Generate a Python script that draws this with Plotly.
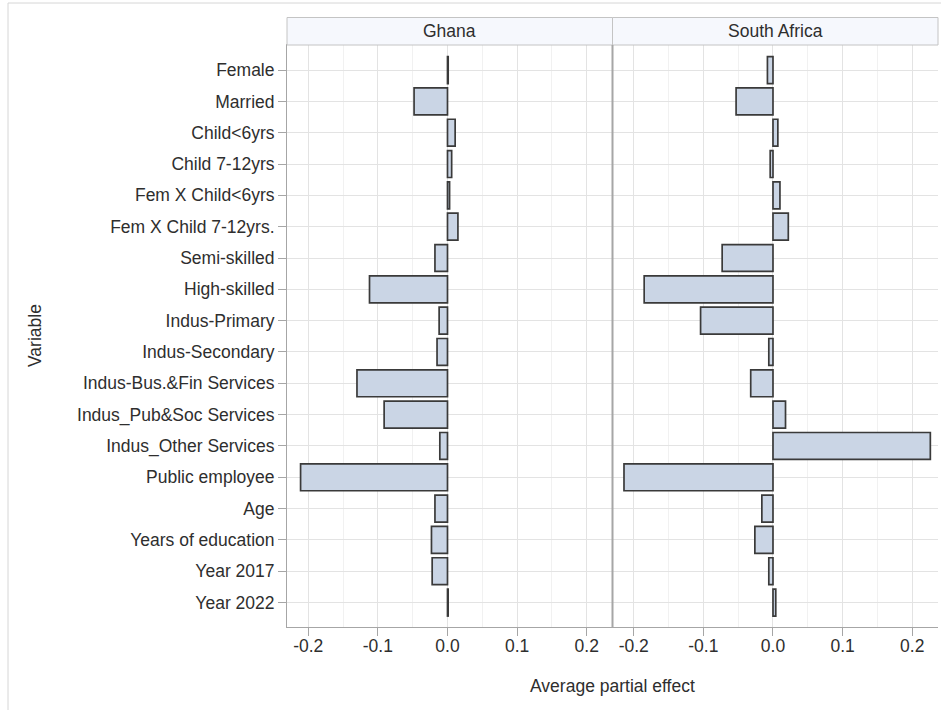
import plotly.graph_objects as go

variables = ["Female", "Married", "Child<6yrs", "Child 7-12yrs", "Fem X Child<6yrs",
             "Fem X Child 7-12yrs.", "Semi-skilled", "High-skilled", "Indus-Primary",
             "Indus-Secondary", "Indus-Bus.&Fin Services", "Indus_Pub&Soc Services",
             "Indus_Other Services", "Public employee", "Age", "Years of education",
             "Year 2017", "Year 2022"]
ghana = [0.001, -0.048, 0.011, 0.006, 0.003, 0.015, -0.018, -0.112, -0.012,
         -0.015, -0.130, -0.091, -0.011, -0.211, -0.018, -0.023, -0.022, 0.001]
south_africa = [-0.008, -0.053, 0.007, -0.004, 0.010, 0.022, -0.073, -0.185, -0.104,
                -0.006, -0.032, 0.018, 0.226, -0.214, -0.016, -0.026, -0.006, 0.004]
panels = ["Ghana", "South Africa"]
tick_vals = [-0.2, -0.1, 0.0, 0.1, 0.2]
tick_text = ["-0.2", "-0.1", "0.0", "0.1", "0.2"]

FONT = "Liberation Sans"
FS = 17.5
TXT = "#2e2e2e"
FILL = "#CAD5E5"
EDGE = "#3a3a3a"
GRID = "#e3e3e3"
MINOR = "#f1f1f1"
FRAME = "#a6a6a6"

W, H = 941, 710
L, R, T, B = 287, 3, 45, 83
plot_h = H - T - B

fig = go.Figure()
for i, vals in enumerate([ghana, south_africa]):
    fig.add_trace(go.Bar(
        x=vals, y=variables, orientation="h",
        xaxis="x" if i == 0 else "x2", yaxis="y",
        marker=dict(color=FILL, line=dict(color=EDGE, width=1.7)),
        width=0.86, showlegend=False, name=panels[i],
    ))

xrange = [-0.2305, 0.237]
xcommon = dict(
    range=xrange, tickvals=tick_vals, ticktext=tick_text,
    showgrid=True, gridcolor=GRID, gridwidth=1,
    minor=dict(dtick=0.05, tick0=0, showgrid=True, gridcolor=MINOR, gridwidth=1, ticks=""),
    ticks="outside", ticklen=8, tickcolor=FRAME, tickwidth=1,
    ticklabelstandoff=-5,
    showline=True, linecolor=FRAME, linewidth=1, mirror=True,
    zeroline=False, anchor="y",
    tickfont=dict(family=FONT, size=FS, color=TXT),
    fixedrange=True,
)

fig.update_layout(
    width=W, height=H,
    margin=dict(l=L, r=R, t=T, b=B, pad=0),
    paper_bgcolor="white", plot_bgcolor="white",
    xaxis=dict(domain=[0, 0.5], **xcommon),
    xaxis2=dict(domain=[0.5, 1], **xcommon),
    yaxis=dict(
        type="category", categoryorder="array", categoryarray=variables,
        range=[17.78, -0.8],
        showgrid=True, gridcolor=GRID, gridwidth=1,
        ticks="outside", ticklen=8, tickcolor=FRAME,
        showline=True, linecolor=FRAME, linewidth=1,
        zeroline=False,
        tickfont=dict(family=FONT, size=FS, color=TXT),
    ),
    font=dict(family=FONT, size=FS, color=TXT),
)

hdr_top = 1 + 27.5 / plot_h
shapes = []
for x0, x1 in [(0, 0.5), (0.5, 1)]:
    shapes.append(dict(type="rect", xref="paper", yref="paper", x0=x0, x1=x1,
                       y0=1, y1=hdr_top, fillcolor="#F6F8FD",
                       line=dict(color="#c4c4c4", width=1), layer="above"))
# panel separator
shapes.append(dict(type="line", xref="paper", yref="paper", x0=0.5, x1=0.5,
                   y0=0, y1=1, line=dict(color=FRAME, width=2)))
# outer image border (top and left)
shapes.append(dict(type="line", xref="paper", yref="paper",
                   x0=(8 - L) / (W - L - R), x1=1 + R / (W - L - R),
                   y0=1 + (T - 3) / plot_h, y1=1 + (T - 3) / plot_h,
                   line=dict(color="#d6d6d6", width=1)))
shapes.append(dict(type="line", xref="paper", yref="paper",
                   x0=(8 - L) / (W - L - R), x1=(8 - L) / (W - L - R),
                   y0=1 + (T - 3) / plot_h, y1=-B / plot_h,
                   line=dict(color="#d6d6d6", width=1)))
fig.update_layout(shapes=shapes)

annotations = []
for x, name in [(0.25, panels[0]), (0.75, panels[1])]:
    annotations.append(dict(text=name, xref="paper", yref="paper", x=x,
                            y=(1 + hdr_top) / 2, showarrow=False,
                            xanchor="center", yanchor="middle",
                            font=dict(family=FONT, size=FS, color=TXT)))
annotations.append(dict(text="Average partial effect", xref="paper", yref="paper",
                        x=0.5, y=-(686 - (H - B)) / plot_h, showarrow=False,
                        xanchor="center", yanchor="middle",
                        font=dict(family=FONT, size=FS, color=TXT)))
annotations.append(dict(text="Variable", xref="paper", yref="paper",
                        x=(35 - L) / (W - L - R), y=0.5, showarrow=False,
                        textangle=-90, xanchor="center", yanchor="middle",
                        font=dict(family=FONT, size=FS, color=TXT)))
fig.update_layout(annotations=annotations)

fig.write_html("out.html")
